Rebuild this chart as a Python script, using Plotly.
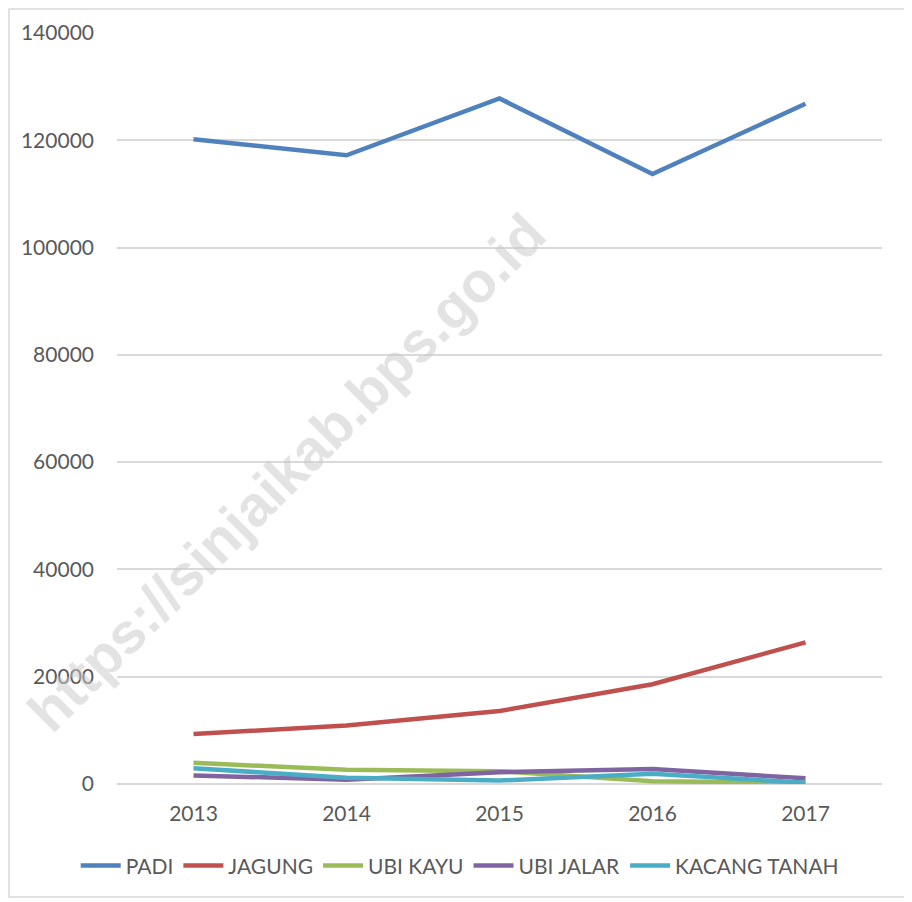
import plotly.graph_objects as go

years = ["2013", "2014", "2015", "2016", "2017"]
padi = [120200, 117200, 127800, 113700, 126800]
jagung = [9300, 10900, 13600, 18600, 26400]
ubi_kayu = [3950, 2650, 2400, 500, 250]
ubi_jalar = [1600, 800, 2200, 2800, 1050]
kacang_tanah = [2950, 1150, 650, 1900, 250]

series = [
    ("PADI", padi, "#4F81BD"),
    ("JAGUNG", jagung, "#C0504D"),
    ("UBI KAYU", ubi_kayu, "#9BBB59"),
    ("UBI JALAR", ubi_jalar, "#8064A2"),
    ("KACANG TANAH", kacang_tanah, "#4BACC6"),
]

fig = go.Figure()
for name, vals, col in series:
    fig.add_trace(go.Scatter(x=years, y=vals, name=name, mode="lines",
                             line=dict(color=col, width=4.5)))

font_family = "Lato, 'Open Sans', sans-serif"
fig.update_layout(
    width=900, height=890,
    margin=dict(l=109, r=26, t=25, b=114),
    plot_bgcolor="white", paper_bgcolor="white",
    font=dict(family=font_family, size=21, color="#595959"),
    showlegend=True,
    legend=dict(orientation="h", x=0.448, xanchor="center", y=-0.109, yanchor="middle",
                font=dict(size=21, color="#595959"), itemwidth=40, tracegroupgap=0),
    xaxis=dict(type="category", range=[-0.5, 4.5], showgrid=False, showline=False,
               zeroline=False, ticks="", ticklabelstandoff=15,
               tickfont=dict(size=21, color="#595959")),
    yaxis=dict(range=[0, 140000], dtick=20000, showgrid=True, gridcolor="#D9D9D9",
               gridwidth=1.5, zeroline=True, zerolinecolor="#D9D9D9", zerolinewidth=1.5,
               showline=False, ticks="", tickformat="d", ticklabelstandoff=22,
               tickfont=dict(size=21, color="#595959")),
    shapes=[dict(type="rect", xref="paper", yref="paper", x0=-0.1412, x1=1.0327,
                 y0=-0.1505, y1=1.032, line=dict(color="#D9D9D9", width=1.5),
                 layer="below")],
    annotations=[dict(text="<b>https://sinjaikab.bps.go.id</b>", xref="paper", yref="paper",
                      x=0.222, y=0.415, xanchor="center", yanchor="middle", showarrow=False,
                      textangle=-45, font=dict(family="Liberation Sans, Arial, sans-serif",
                                               size=57, color="rgba(200,200,200,0.5)"),
                      )],
)

fig.write_html("out.html")
